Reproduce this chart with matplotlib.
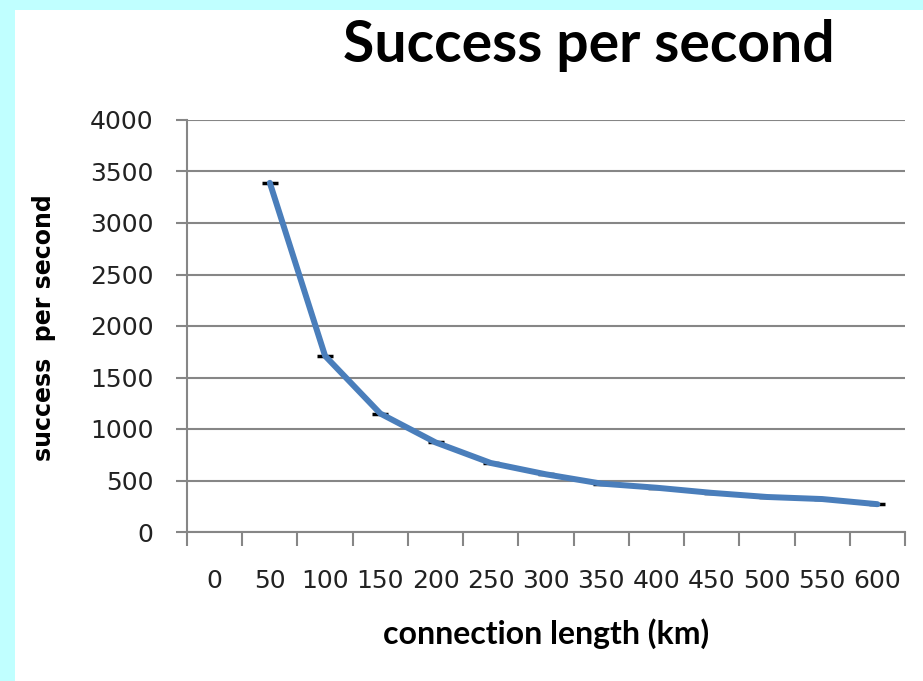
import matplotlib.pyplot as plt
from matplotlib.patches import Rectangle
import numpy as np

# connection length categories (km) and measured success per second
lengths = [0, 50, 100, 150, 200, 250, 300, 350, 400, 450, 500, 550, 600]
success = [np.nan, 3390, 1710, 1150, 870, 670, 560, 470, 430, 380, 340, 320, 270]
y_ticks = [0, 500, 1000, 1500, 2000, 2500, 3000, 3500, 4000]

fig = plt.figure(figsize=(9.23, 6.81), dpi=100)
fig.patch.set_facecolor('#c0ffff')
fig.patches.append(Rectangle((15 / 923, 0), 1, 1 - 10 / 681, transform=fig.transFigure,
                             facecolor='white', edgecolor='none', zorder=-10))

ax = fig.add_axes([187 / 923, 1 - 532 / 681, (905 - 187) / 923, (532 - 120) / 681])
ax.set_facecolor('none')

x = np.arange(len(lengths))
ax.plot(x, success, '_', color='black', markersize=11, markeredgewidth=2.5, zorder=2)
ax.plot(x, success, color='#4a7ebb', linewidth=4.3, solid_capstyle='round', zorder=3)

ax.set_xlim(-0.5, len(lengths) - 0.5)
ax.set_ylim(0, 4000)
ax.set_yticks(y_ticks)
ax.set_xticks(x)
ax.set_xticklabels([str(v) for v in lengths])
ax.set_xticks(np.arange(-0.5, len(lengths)), minor=True)

ax.grid(axis='y', color='#868686', linewidth=1.5)
ax.set_axisbelow(True)
for side in ['top', 'right']:
    ax.spines[side].set_visible(False)
for side in ['left', 'bottom']:
    ax.spines[side].set_color('#868686')
    ax.spines[side].set_linewidth(1.5)

ax.tick_params(axis='y', direction='out', length=8, width=1.5, color='#868686',
               labelsize=18, pad=16, labelcolor='#222222')
ax.tick_params(axis='x', which='major', length=0, labelsize=18, pad=27,
               labelcolor='#222222')
ax.tick_params(axis='x', which='minor', direction='out', length=10, width=1.5,
               color='#868686')

ax.set_ylabel('success  per second', fontsize=17, fontweight='bold')
ax.yaxis.set_label_coords(-0.183, 0.495)
ax.set_xlabel('connection length (km)', family='Lato', fontsize=23, fontweight='bold')
ax.xaxis.set_label_coords(0.5, -0.21)
fig.text(589 / 923, 1 - 45 / 681, 'Success per second', family='Lato', fontsize=41,
         fontweight='bold', ha='center', va='center')

fig.savefig('out.png', dpi=100, facecolor=fig.get_facecolor())
